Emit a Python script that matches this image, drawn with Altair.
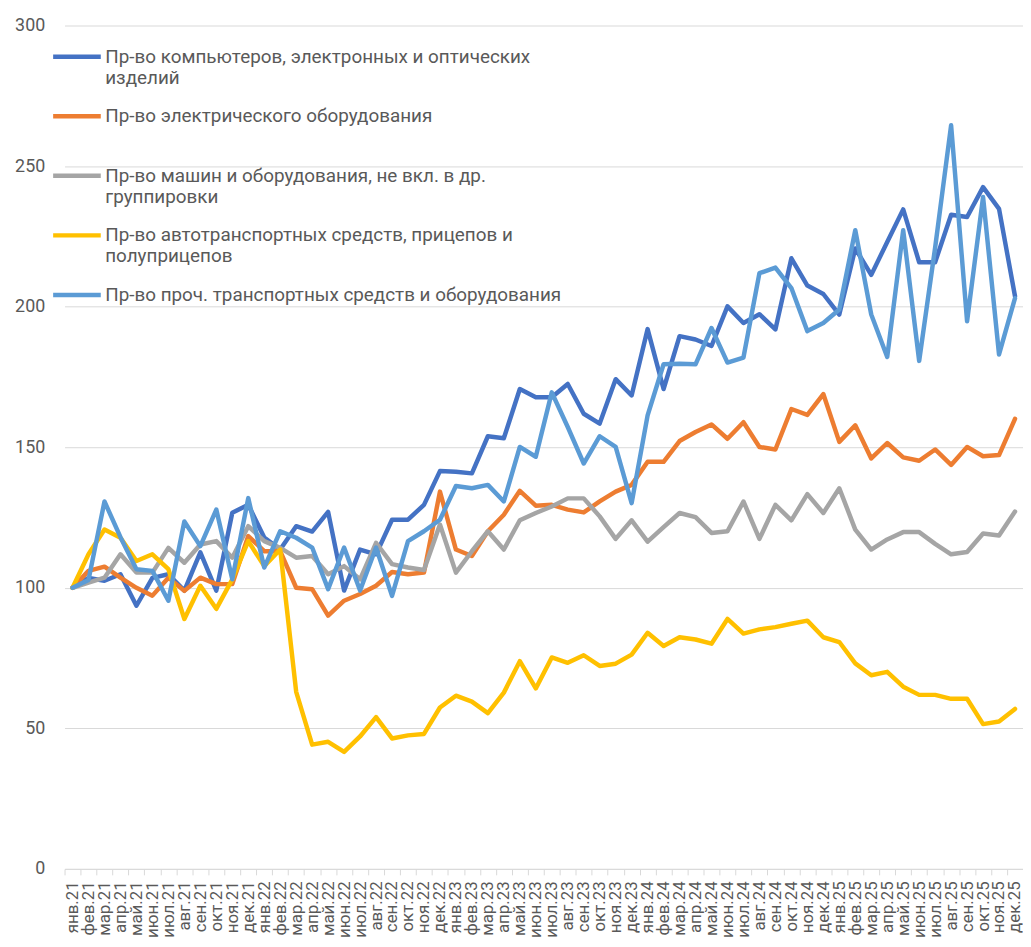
import altair as alt
import pandas as pd

months_ru = ["янв.", "фев.", "мар.", "апр.", "май.", "июн.", "июл.", "авг.", "сен.", "окт.", "ноя.", "дек."]
years = ["21", "22", "23", "24", "25"]
months = [m + y for y in years for m in months_ru]

names = [
    "Пр-во компьютеров, электронных и оптических|изделий",
    "Пр-во электрического оборудования|",
    "Пр-во машин и оборудования, не вкл. в др.|группировки",
    "Пр-во автотранспортных средств, прицепов и|полуприцепов",
    "Пр-во проч. транспортных средств и оборудования|",
]
colors = ["#4472C4", "#ED7D31", "#A5A5A5", "#FFC000", "#5B9BD5"]

computers = [100, 103.5, 102.5, 104.8, 93.6, 103.5, 104.8, 99, 112.6, 99, 126.7, 129.5,
             117.9, 113.6, 121.9, 120, 127, 99, 113.6, 111.9, 124.2, 124.2, 129.5, 141.5,
             141.3, 140.7, 153.9, 153.2, 170.7, 167.8, 167.8, 172.5, 161.9, 158.4, 174.2, 168.4,
             192, 170.7, 189.5, 188.3, 186, 200.1, 194.2, 197.3, 191.9, 217.2, 207.5, 204.5,
             197.2, 220.7, 211.3, 223, 234.6, 215.8, 215.8, 232.7, 231.9, 242.5, 234.8, 203.7]
electric = [100, 106, 107.5, 103.6, 100, 97.2, 103.6, 98.9, 103.6, 101.3, 101.3, 118.4,
            113, 113, 100, 99.5, 90.1, 95.4, 97.8, 100.7, 105.6, 104.8, 105.4, 134.2,
            113.6, 111.3, 120.1, 126, 134.5, 129.2, 129.5, 127.8, 126.8, 130.7, 134.2, 136.6,
            144.8, 144.8, 152.2, 155.4, 158.1, 153, 158.9, 150.1, 149.2, 163.6, 161.5, 168.9,
            151.9, 157.8, 146, 151.5, 146.4, 145.2, 149.2, 143.7, 150.1, 146.8, 147.2, 160.1]
machinery = [100, 101.8, 103.6, 111.9, 105.4, 105.4, 114.2, 108.9, 115.4, 116.6, 110.7, 121.9,
             116.6, 114.2, 110.7, 111.3, 104.8, 107.7, 103, 116, 108.4, 107.2, 106.3, 122.5,
             105.4, 113, 120.1, 113.6, 124, 126.6, 128.9, 131.8, 131.8, 125.4, 117.4, 124,
             116.4, 121.6, 126.6, 125.1, 119.5, 120.1, 130.7, 117.4, 129.5, 124, 133.3, 126.6,
             135.4, 120.7, 113.6, 117.2, 119.8, 119.8, 115.6, 111.9, 112.7, 119.3, 118.6, 127.1]
autos = [100, 111.9, 120.7, 117.8, 109.5, 111.9, 106.6, 88.9, 100.7, 92.5, 103, 116.6,
         107.7, 113.6, 63, 44.2, 45.2, 41.6, 47.1, 54, 46.4, 47.5, 48, 57.4,
         61.6, 59.5, 55.4, 62.7, 73.9, 64.2, 75.2, 73.3, 76, 72.2, 73, 76.2,
         84, 79.3, 82.4, 81.6, 80.1, 88.9, 83.7, 85.2, 86, 87.2, 88.3, 82.4,
         80.7, 73.1, 68.9, 70.1, 64.8, 61.9, 61.9, 60.5, 60.5, 51.5, 52.4, 56.9]
other_transport = [100, 102.8, 130.7, 118, 106.6, 106, 95.4, 123.6, 114.8, 127.8, 103, 131.9,
                   107.2, 120.1, 117.8, 114.3, 99.5, 114.3, 99, 114.3, 97.1, 116.6, 120.1, 124.2,
                   136.2, 135.4, 136.6, 130.7, 150.1, 146.6, 169.5, 157.2, 144.2, 153.9, 150.1, 130.1,
                   161.3, 179.5, 179.7, 179.5, 192.4, 180.1, 181.9, 211.9, 213.9, 206.6, 191.3, 194.2,
                   199, 227.2, 197.2, 182.1, 227.2, 180.7, 221, 264.5, 194.8, 239, 183, 203]

series = [computers, electric, machinery, autos, other_transport]

rows = []
for name, vals in zip(names, series):
    for m, v in zip(months, vals):
        rows.append({"month": m, "series": name, "value": v})
df = pd.DataFrame(rows)

FONT = "Roboto"
TXT = "#595959"

color = alt.Color(
    "series:N",
    scale=alt.Scale(domain=names, range=colors),
    legend=alt.Legend(
        title=None,
        orient="none",
        legendX=-14,
        legendY=5,
        symbolType="stroke",
        symbolSize=2304,
        symbolStrokeWidth=4.5,
        labelFont=FONT,
        labelFontSize=19,
        labelColor=TXT,
        labelLimit=0,
        labelOffset=2,
        labelExpr="split(datum.label, '|')",
        rowPadding=2,
    ),
)

x = alt.X(
    "month:O",
    sort=months,
    bandPosition=0.5,
    scale=alt.Scale(type="band", paddingInner=0, paddingOuter=0),
    axis=alt.Axis(
        title=None,
        labelAngle=-90,
        labelFont=FONT,
        labelFontSize=17,
        labelColor=TXT,
        labelPadding=6,
        labelOverlap=False,
        tickBand="extent",
        tickSize=6,
        tickColor="#D9D9D9",
        domainColor="#D9D9D9",
        grid=False,
    ),
)
y = alt.Y(
    "value:Q",
    scale=alt.Scale(domain=[0, 300], nice=False),
    axis=alt.Axis(
        title=None,
        values=[0, 50, 100, 150, 200, 250, 300],
        labelFont=FONT,
        labelFontSize=18,
        labelColor=TXT,
        labelPadding=20,
        ticks=False,
        domain=False,
        gridColor="#D9D9D9",
        gridWidth=1,
    ),
)

layers = []
for name in names:
    layers.append(
        alt.Chart(df)
        .transform_filter(alt.datum.series == name)
        .mark_line(strokeWidth=4.5, strokeJoin="round", strokeCap="round")
        .encode(x=x, y=y, color=color)
    )

chart = (
    alt.layer(*layers)
    .properties(
        width=966,
        height=850,
        autosize=alt.AutoSizeParams(type="none"),
        padding={"left": 57, "top": 14, "right": 0, "bottom": 67},
        background="white",
    )
    .configure_view(stroke=None)
)

chart.save("out.html", embed_options={"renderer": "svg", "actions": False})
